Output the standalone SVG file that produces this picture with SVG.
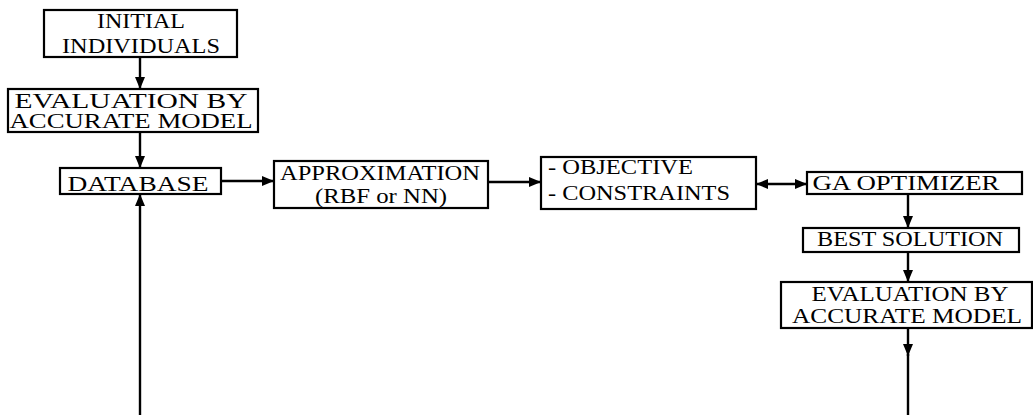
<svg xmlns="http://www.w3.org/2000/svg" width="1033" height="415" viewBox="0 0 1033 415">
  <defs>
    <marker id="ah" viewBox="0 0 12 10" refX="12" refY="5" markerWidth="12" markerHeight="10" markerUnits="userSpaceOnUse" orient="auto-start-reverse">
      <path d="M0,0 L12,5 L0,10 Z" fill="#000"/>
    </marker>
    <style>
      .box { fill: #fff; stroke: #000; stroke-width: 2.2; }
      text { font-family: 'Liberation Serif', 'Times New Roman', serif; font-size: 20px; fill: #000; }
      .mid { text-anchor: middle; }
      .wire { fill: none; stroke: #000; stroke-width: 2.4; }
    </style>
  </defs>

  <!-- connectors -->
  <g id="connectors">
    <line class="wire" x1="140" y1="57" x2="140" y2="89" marker-end="url(#ah)"/>
    <line class="wire" x1="140" y1="132" x2="140" y2="168" marker-end="url(#ah)"/>
    <line class="wire" x1="221" y1="181" x2="274" y2="181" marker-end="url(#ah)"/>
    <line class="wire" x1="488" y1="182" x2="541" y2="182" marker-end="url(#ah)"/>
    <line class="wire" x1="756" y1="184" x2="807" y2="184" marker-start="url(#ah)" marker-end="url(#ah)"/>
    <line class="wire" x1="908" y1="194" x2="908" y2="228" marker-end="url(#ah)"/>
    <line class="wire" x1="908" y1="252" x2="908" y2="282" marker-end="url(#ah)"/>
    <!-- return path: lower evaluation runs off the bottom edge and back up into the database -->
    <line class="wire" x1="908" y1="328" x2="908" y2="356" marker-end="url(#ah)"/>
    <line class="wire" x1="908" y1="354" x2="908" y2="416"/>
    <line class="wire" x1="140" y1="416" x2="140" y2="194" marker-end="url(#ah)"/>
  </g>

  <g id="initial">
    <rect class="box" x="44" y="10" width="193" height="47"/>
    <text class="mid" x="141" y="28" textLength="88" lengthAdjust="spacingAndGlyphs">INITIAL</text>
    <text class="mid" x="141" y="53" textLength="158" lengthAdjust="spacingAndGlyphs">INDIVIDUALS</text>
  </g>

  <g id="eval1">
    <rect class="box" x="8" y="89" width="250" height="43"/>
    <text class="mid" x="131" y="108" textLength="233" lengthAdjust="spacingAndGlyphs">EVALUATION BY</text>
    <text class="mid" x="131" y="128" textLength="243" lengthAdjust="spacingAndGlyphs">ACCURATE MODEL</text>
  </g>

  <g id="database">
    <rect class="box" x="60" y="168" width="161" height="26"/>
    <text class="mid" x="138" y="191" textLength="141" lengthAdjust="spacingAndGlyphs">DATABASE</text>
  </g>

  <g id="approx">
    <rect class="box" x="274" y="161" width="214" height="47"/>
    <text class="mid" x="380" y="180" textLength="200" lengthAdjust="spacingAndGlyphs">APPROXIMATION</text>
    <text class="mid" x="381" y="203" textLength="132" lengthAdjust="spacingAndGlyphs">(RBF or NN)</text>
  </g>

  <g id="objective">
    <rect class="box" x="541" y="157" width="215" height="52"/>
    <text x="548" y="174" textLength="145" lengthAdjust="spacingAndGlyphs">- OBJECTIVE</text>
    <text x="548" y="200" textLength="182" lengthAdjust="spacingAndGlyphs">- CONSTRAINTS</text>
  </g>

  <g id="ga">
    <rect class="box" x="807" y="172" width="215" height="22"/>
    <text class="mid" x="906" y="190" textLength="187" lengthAdjust="spacingAndGlyphs">GA OPTIMIZER</text>
  </g>

  <g id="best">
    <rect class="box" x="803" y="228" width="216" height="24"/>
    <text class="mid" x="910" y="246" textLength="186" lengthAdjust="spacingAndGlyphs">BEST SOLUTION</text>
  </g>

  <g id="eval2">
    <rect class="box" x="781" y="282" width="251" height="46"/>
    <text class="mid" x="910" y="301" textLength="197" lengthAdjust="spacingAndGlyphs">EVALUATION BY</text>
    <text class="mid" x="907" y="323" textLength="230" lengthAdjust="spacingAndGlyphs">ACCURATE MODEL</text>
  </g>
</svg>
